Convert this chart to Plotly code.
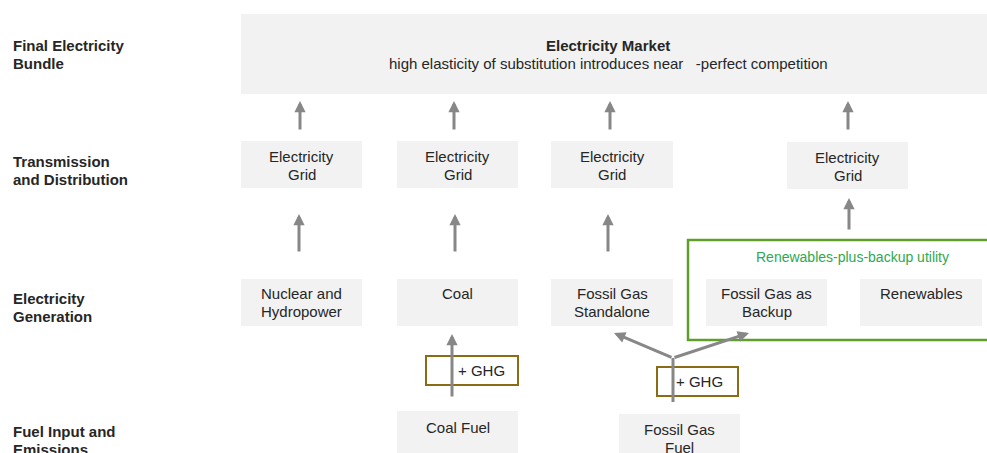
import plotly.graph_objects as go

W, H = 987, 453
FONT = "Liberation Sans, Arial, sans-serif"
TXT = "#262626"
BOX_FILL = "#f2f2f2"
ARROW = "#878787"
GREEN = "#5f9e2a"
GREEN_TXT = "#2fa84f"
GHG_COL = "#8b6c14"

# ---- content ----
row_labels = ["Final Electricity\nBundle", "Transmission\nand Distribution",
              "Electricity\nGeneration", "Fuel Input and\nEmissions"]
market_title = "Electricity Market"
market_sub = "high elasticity of substitution introduces near\u00a0\u00a0 -perfect competition"
grid_labels = ["Electricity\nGrid"] * 4
gen_labels = ["Nuclear and\nHydropower", "Coal", "Fossil Gas\nStandalone",
              "Fossil Gas as\nBackup", "Renewables"]
fuel_labels = ["Coal Fuel", "Fossil Gas\nFuel"]
ghg_labels = ["+ GHG", "+ GHG"]
group_label = "Renewables-plus-backup utility"

# ---- layout geometry ----
row_label_y = [45, 161, 298, 431]
market_box = (241, 14, 992, 94)
grid_boxes = [(241, 141, 362, 188), (397, 141, 518, 188), (551, 141, 673, 188), (787, 142, 908, 189)]
gen_boxes = [(241, 279, 362, 326), (397, 279, 518, 326), (551, 279, 673, 326),
             (706, 279, 827, 326), (860, 279, 982, 326)]
fuel_boxes = [(397, 411, 518, 460), (619, 414, 740, 460)]
ghg_boxes = [(426, 356, 518, 385), (657, 367, 738, 396)]
ghg_text_x = [481, 699]
green_box = (688, 240, 994, 340)
LINE = 18

fig = go.Figure()
shapes = []
ann = []

def add_box(b, fill=BOX_FILL, line=None, lw=0):
    shapes.append(dict(type="rect", xref="x", yref="y", x0=b[0], y0=b[1], x1=b[2], y1=b[3],
                       fillcolor=fill, line=dict(width=lw, color=line or fill), layer="below"))

def add_text(x, y_first, text, size=15, bold=False, color=TXT, xanchor="center"):
    for i, line in enumerate(text.split("\n")):
        t = f"<b>{line}</b>" if bold else line
        ann.append(dict(x=x, y=y_first + i * LINE, xref="x", yref="y", text=t, showarrow=False,
                        xanchor=xanchor, yanchor="middle",
                        font=dict(family=FONT, size=size, color=color)))

def add_arrow(x0, y0, x1, y1):
    ann.append(dict(x=x1, y=y1, ax=x0, ay=y0, xref="x", yref="y", axref="x", ayref="y",
                    text="", showarrow=True, arrowhead=2, arrowsize=0.75, arrowwidth=3,
                    arrowcolor=ARROW, standoff=0, startstandoff=0))

# row labels
for lab, y in zip(row_labels, row_label_y):
    add_text(11, y, lab, bold=True, xanchor="left")

# market
add_box(market_box)
add_text(608, 45, market_title, bold=True)
add_text(608, 63, market_sub)

# grids
for lab, b in zip(grid_labels, grid_boxes):
    add_box(b)
    add_text((b[0] + b[2]) / 2, b[1] + 15, lab)

# green group box
shapes.append(dict(type="rect", xref="x", yref="y", x0=green_box[0], y0=green_box[1],
                   x1=green_box[2], y1=green_box[3], fillcolor="rgba(0,0,0,0)",
                   line=dict(width=2.5, color=GREEN)))
add_text(852, 257, group_label, size=14, color=GREEN_TXT)

# generation
for lab, b in zip(gen_labels, gen_boxes):
    add_box(b)
    add_text((b[0] + b[2]) / 2, b[1] + 14, lab)

# fuels
fuel_first_y = [427, 429]
for lab, b, y in zip(fuel_labels, fuel_boxes, fuel_first_y):
    add_box(b)
    add_text((b[0] + b[2]) / 2, y, lab)

# GHG boxes
for lab, b, tx in zip(ghg_labels, ghg_boxes, ghg_text_x):
    shapes.append(dict(type="rect", xref="x", yref="y", x0=b[0], y0=b[1], x1=b[2], y1=b[3],
                       fillcolor="white", line=dict(width=2, color=GHG_COL), layer="below"))
    add_text(tx, (b[1] + b[3]) / 2, lab)

# arrows market <- grid
for x in [300, 454, 610, 848]:
    add_arrow(x, 131, x, 101)
# arrows grid <- generation
for x in [299, 455, 608]:
    add_arrow(x, 253, x, 214)
add_arrow(849, 231, 849, 198)
# coal fuel -> coal
add_arrow(452, 398, 452, 334)
# gas fork
shapes.append(dict(type="line", xref="x", yref="y", x0=673, y0=402, x1=673, y1=358,
                   line=dict(width=3, color=ARROW)))
add_arrow(673, 358, 614, 333)
add_arrow(673, 358, 749, 333)

fig.update_layout(
    width=W, height=H, margin=dict(l=0, r=0, t=0, b=0),
    paper_bgcolor="white", plot_bgcolor="white",
    xaxis=dict(range=[0, W], visible=False, fixedrange=True),
    yaxis=dict(range=[H, 0], visible=False, fixedrange=True),
    shapes=shapes, annotations=ann, showlegend=False,
)
fig.write_html("out.html", config={"displayModeBar": False},
               post_script="document.body.style.margin='0';document.body.style.overflow='hidden';")
